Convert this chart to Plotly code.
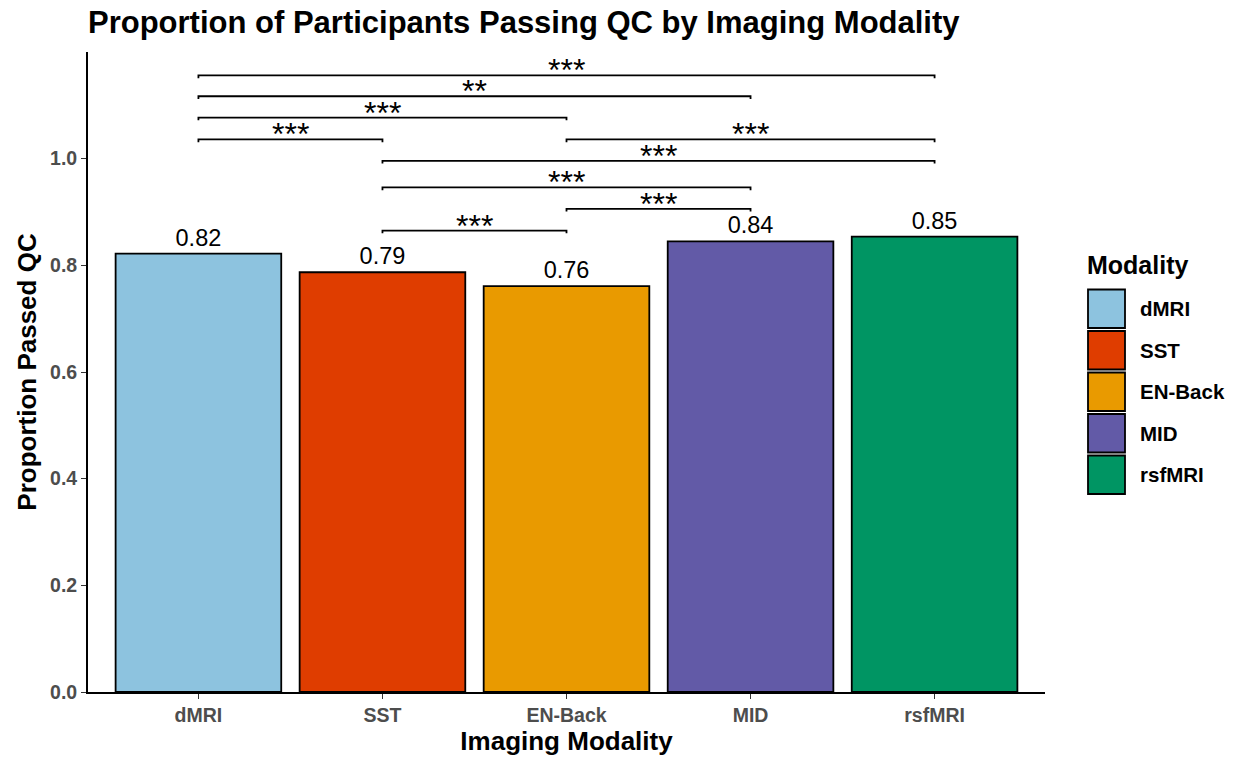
import plotly.graph_objects as go

categories = ["dMRI", "SST", "EN-Back", "MID", "rsfMRI"]
values = [0.822, 0.787, 0.761, 0.845, 0.854]
value_labels = ["0.82", "0.79", "0.76", "0.84", "0.85"]
colors = ["#8DC3DF", "#DF3D00", "#E99A00", "#625AA7", "#009563"]

# significance comparisons: (start category, end category, height, label)
comp_start = ["dMRI", "dMRI", "dMRI", "dMRI", "EN-Back", "SST", "SST", "EN-Back", "SST"]
comp_end = ["rsfMRI", "MID", "EN-Back", "SST", "rsfMRI", "rsfMRI", "MID", "MID", "EN-Back"]
comp_y = [1.156, 1.117, 1.077, 1.036, 1.036, 0.996, 0.946, 0.906, 0.865]
comp_label = ["***", "**", "***", "***", "***", "***", "***", "***", "***"]

FONT = "Liberation Sans, Arial, sans-serif"

idx = {c: i for i, c in enumerate(categories)}
xpos = [idx[c] for c in categories]

fig = go.Figure()
fig.add_trace(go.Bar(
    x=xpos, y=values, width=0.9,
    marker=dict(color=colors, line=dict(color="black", width=1.8)),
    text=value_labels, textposition="outside",
    textfont=dict(family=FONT, size=23.5, color="black"),
    cliponaxis=False, showlegend=False,
))

tip = 0.005
for s, e, h, lab in zip(comp_start, comp_end, comp_y, comp_label):
    x0, x1 = idx[s], idx[e]
    fig.add_trace(go.Scatter(
        x=[x0, x0, x1, x1], y=[h - tip, h, h, h - tip], mode="lines",
        line=dict(color="black", width=1.8), showlegend=False, hoverinfo="skip",
        cliponaxis=False,
    ))
    fig.add_annotation(x=(x0 + x1) / 2, y=h, text=lab, showarrow=False,
                       yanchor="bottom", yshift=-15,
                       font=dict(family=FONT, size=32, color="black"))

# manual legend (ggplot-style key boxes)
W, H = 1234, 759
L, R, T, B = 88, 189, 52, 67
pw, ph = W - L - R, H - T - B
def px(x):
    return (x - L) / pw
def py(y):
    return 1 - (y - T) / ph

fig.add_annotation(x=px(1085), y=py(265), xref="paper", yref="paper", text="<b>Modality</b>",
                   showarrow=False, xanchor="left", yanchor="middle",
                   font=dict(family=FONT, size=25, color="black"))
key_top = 288
key_h = 41.5
for i, (cat, col) in enumerate(zip(categories, colors)):
    y0 = key_top + i * key_h
    fig.add_shape(type="rect", xref="paper", yref="paper",
                  x0=px(1088), x1=px(1125), y0=py(y0 + 1.5), y1=py(y0 + key_h - 1.5),
                  fillcolor=col, line=dict(color="black", width=1.8))
    fig.add_annotation(x=px(1138), y=py(y0 + key_h / 2), xref="paper", yref="paper",
                       text=f"<b>{cat}</b>", showarrow=False, xanchor="left", yanchor="middle",
                       font=dict(family=FONT, size=20.5, color="black"))

fig.update_layout(
    width=W, height=H,
    margin=dict(l=L, r=R, t=T, b=B),
    plot_bgcolor="white", paper_bgcolor="white",
    title=dict(text="<b>Proportion of Participants Passing QC by Imaging Modality</b>",
               x=0, xref="paper", xanchor="left", y=1 - 22 / H, yanchor="middle",
               font=dict(family=FONT, size=31, color="black")),
    xaxis=dict(range=[-0.6, 4.6], showline=True, linecolor="black", linewidth=1.8,
               tickvals=xpos, ticktext=[f"<b>{c}</b>" for c in categories],
               ticks="outside", ticklen=5, tickcolor="#333333", tickwidth=1.3,
               tickfont=dict(family=FONT, size=19.5, color="#4D4D4D"),
               title=dict(text="<b>Imaging Modality</b>", standoff=2,
                          font=dict(family=FONT, size=26, color="black")),
               showgrid=False, zeroline=False, fixedrange=True),
    yaxis=dict(range=[0, 1.2], showline=True, linecolor="black", linewidth=1.8,
               tickvals=[0, 0.2, 0.4, 0.6, 0.8, 1.0],
               ticktext=["<b>0.0</b>", "<b>0.2</b>", "<b>0.4</b>", "<b>0.6</b>", "<b>0.8</b>", "<b>1.0</b>"],
               ticks="outside", ticklen=5, tickcolor="#333333", tickwidth=1.3,
               tickfont=dict(family=FONT, size=19.5, color="#4D4D4D"),
               title=dict(text="<b>Proportion Passed QC</b>", standoff=6,
                          font=dict(family=FONT, size=26, color="black")),
               showgrid=False, zeroline=False, fixedrange=True),
)

fig.write_html("out.html")
